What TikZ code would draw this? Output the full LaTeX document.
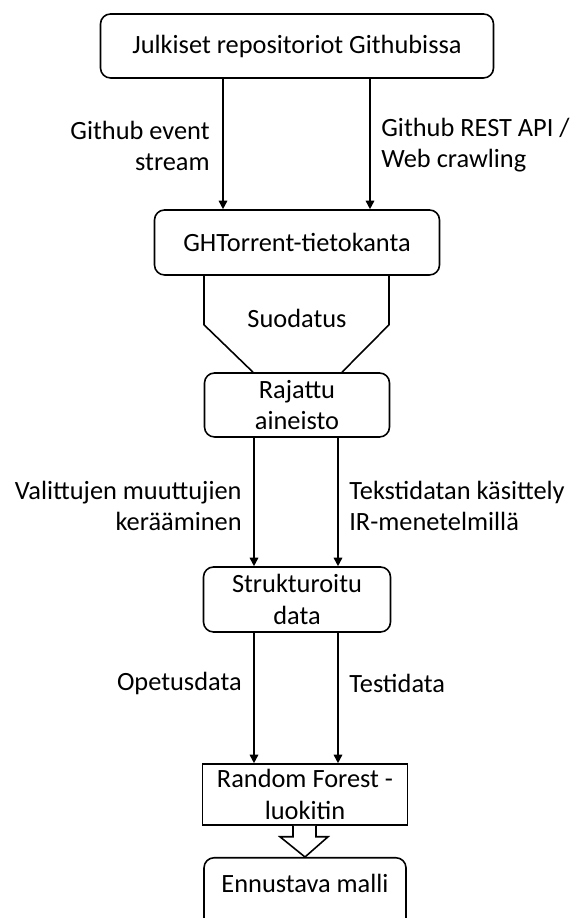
\documentclass[tikz,border=0pt]{standalone}
\usepackage{fontspec}
\setmainfont{Carlito}
\usetikzlibrary{arrows.meta}

\begin{document}
\begin{tikzpicture}[
		stage/.style={draw, rounded corners=0.2cm, line width=0.9pt, inner sep=0pt, align=center, font=\fontsize{15}{17.8}\selectfont},
		flow/.style={-{Triangle[length=0.17cm, width=0.17cm]}, line width=0.9pt},
		lbl/.style={inner sep=0pt, font=\fontsize{15}{17.8}\selectfont}
	]
		\useasboundingbox (0,0) rectangle (11.4,18.36);

		% boxes
		\node[stage, minimum width=7.86cm, minimum height=1.28cm] (repos) at (5.94,17.44) {Julkiset repositoriot Githubissa};
		\node[stage, minimum width=5.7cm, minimum height=1.3cm] (ght) at (5.94,13.51) {GHTorrent-tietokanta};
		\node[stage, minimum width=3.7cm, minimum height=1.28cm] (raj) at (5.94,10.26) {Rajattu\\aineisto};
		\node[stage, minimum width=3.74cm, minimum height=1.3cm] (struk) at (5.94,6.37) {Strukturoitu\\data};
		\node[stage, rounded corners=0pt, minimum width=4.1cm, minimum height=1.22cm] (rf) at (6.1,2.47) {Random Forest -\\luokitin};
		\node[stage, anchor=north, minimum width=4.04cm, text height=0.69cm, text depth=0.9cm] (enn) at (6.1,1.22) {Ennustava malli};

		% labels
		\node[lbl, anchor=east, align=right] (evt) at (4.2,15.44) {Github event\\stream};
		\node[lbl, anchor=west, align=left] (rest) at (7.62,15.46) {Github REST API /\\Web crawling};
		\node[lbl] (suod) at (5.94,12.0) {Suodatus};
		\node[lbl, anchor=east, align=right] (valit) at (4.84,8.24) {Valittujen muuttujien\\kerääminen};
		\node[lbl, anchor=west, align=left] (teksti) at (6.98,8.24) {Tekstidatan käsittely\\IR-menetelmillä};
		\node[lbl, anchor=east] (opetus) at (4.84,4.7) {Opetusdata};
		\node[lbl, anchor=west] (testi) at (6.98,4.7) {Testidata};

		% arrows
		\draw[flow] ([xshift=-1.48cm]repos.south) -- ([xshift=-1.48cm]repos.south |- ght.north);
		\draw[flow] ([xshift=1.46cm]repos.south) -- ([xshift=1.46cm]repos.south |- ght.north);
		\draw[line width=0.9pt] ([xshift=-1.86cm]ght.south) -- ++(0,-0.98) -- ([xshift=-0.88cm]raj.north);
		\draw[line width=0.9pt] ([xshift=1.84cm]ght.south) -- ++(0,-0.98) -- ([xshift=0.9cm]raj.north);
		\draw[flow] ([xshift=-0.86cm]raj.south) -- ([xshift=-0.86cm]raj.south |- struk.north);
		\draw[flow] ([xshift=0.82cm]raj.south) -- ([xshift=0.82cm]raj.south |- struk.north);
		\draw[flow] ([xshift=-0.86cm]struk.south) -- ([xshift=-0.86cm]struk.south |- rf.north);
		\draw[flow] ([xshift=0.82cm]struk.south) -- ([xshift=0.82cm]struk.south |- rf.north);
		\draw[line width=0.9pt, fill=white] ([xshift=-0.24cm]rf.south) -- ++(0,-0.22) -- ++(-0.26,0) -- (enn.north) -- ([xshift=0.46cm,yshift=-0.22cm]rf.south) -- ++(-0.24,0) -- ([xshift=0.22cm]rf.south);
	\end{tikzpicture}
\end{document}
